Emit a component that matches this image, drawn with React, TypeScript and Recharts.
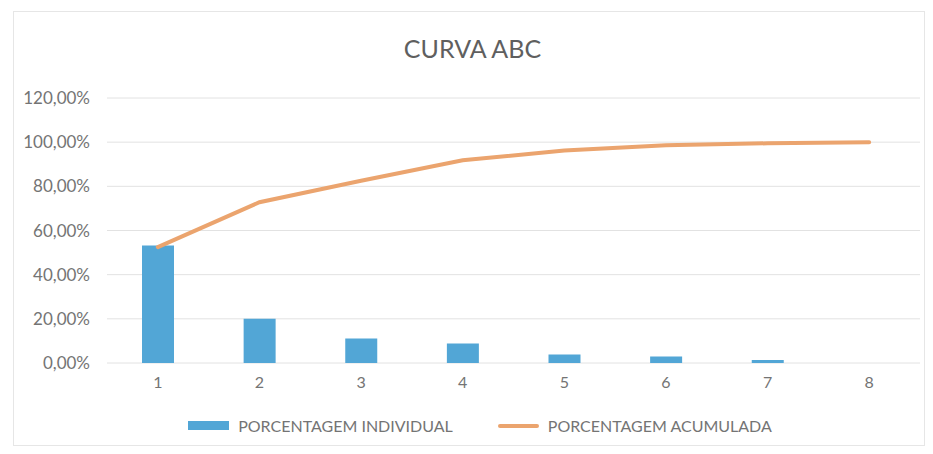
import {
    ComposedChart,
    Bar,
    Line,
    XAxis,
    YAxis,
    CartesianGrid,
} from "recharts";

const categories = ["1", "2", "3", "4", "5", "6", "7", "8"];
const individual = [53.2, 20.0, 11.1, 8.8, 3.8, 3.0, 1.4, 0.0];
const accumulated = [52.5, 72.8, 82.5, 91.8, 96.2, 98.6, 99.5, 100.0];
const yTicks = [0, 20, 40, 60, 80, 100, 120];

const data = categories.map((c, i) => ({
    name: c,
    individual: individual[i],
    accumulated: accumulated[i],
}));

const BLUE = "#52a6d6";
const ORANGE = "#eba46e";
const TEXT = "#747474";
const FONT = "Lato, 'Liberation Sans', sans-serif";

function fmt(v: number): string {
    return v.toFixed(2).replace(".", ",") + "%";
}

function ChartLegend() {
    return (
        <div
            style={{
                position: "absolute",
                left: 0,
                top: 416,
                width: 960,
                display: "flex",
                justifyContent: "center",
                alignItems: "center",
                fontFamily: FONT,
                fontSize: 16,
                color: TEXT,
                gap: 45,
            }}
        >
            <div style={{ display: "flex", alignItems: "center" }}>
                <span style={{ display: "inline-block", width: 41, height: 9, background: BLUE, marginRight: 9 }} />
                <span>PORCENTAGEM INDIVIDUAL</span>
            </div>
            <div style={{ display: "flex", alignItems: "center" }}>
                <span style={{ display: "inline-block", width: 41, height: 4, background: ORANGE, borderRadius: 2, marginRight: 9 }} />
                <span>PORCENTAGEM ACUMULADA</span>
            </div>
        </div>
    );
}

export default function App() {
    return (
        <div style={{ position: "absolute", left: 0, top: 0, width: 933, height: 454, background: "#fff" }}>
            <div
                style={{
                    position: "absolute",
                    left: 13,
                    top: 11,
                    width: 912,
                    height: 435,
                    border: "1px solid #e6e6e6",
                    boxSizing: "border-box",
                }}
            />
            <div
                style={{
                    position: "absolute",
                    left: 0,
                    top: 33,
                    width: 945,
                    textAlign: "center",
                    fontFamily: FONT,
                    fontSize: 25,
                    color: "#5f5f5f",
                }}
            >
                CURVA ABC
            </div>
            <ComposedChart
                width={933}
                height={454}
                data={data}
                margin={{ top: 98, right: 13, bottom: 61, left: 0 }}
                style={{ position: "absolute", left: 0, top: 0 }}
            >
                <CartesianGrid vertical={false} stroke="#e2e2e2" />
                <XAxis
                    dataKey="name"
                    height={30}
                    axisLine={false}
                    tickLine={false}
                    tickMargin={8}
                    tick={{ fill: TEXT, fontSize: 16, fontFamily: FONT }}
                />
                <YAxis
                    width={107}
                    domain={[0, 120]}
                    ticks={yTicks}
                    tickFormatter={fmt}
                    axisLine={false}
                    tickLine={false}
                    tickMargin={11}
                    tick={{ fill: TEXT, fontSize: 17, fontFamily: FONT }}
                />
                <Bar dataKey="individual" fill={BLUE} barSize={32} isAnimationActive={false} />
                <Line
                    dataKey="accumulated"
                    type="linear"
                    stroke={ORANGE}
                    strokeWidth={4}
                    strokeLinecap="round"
                    dot={false}
                    activeDot={false}
                    isAnimationActive={false}
                />
            </ComposedChart>
            <ChartLegend />
        </div>
    );
}
